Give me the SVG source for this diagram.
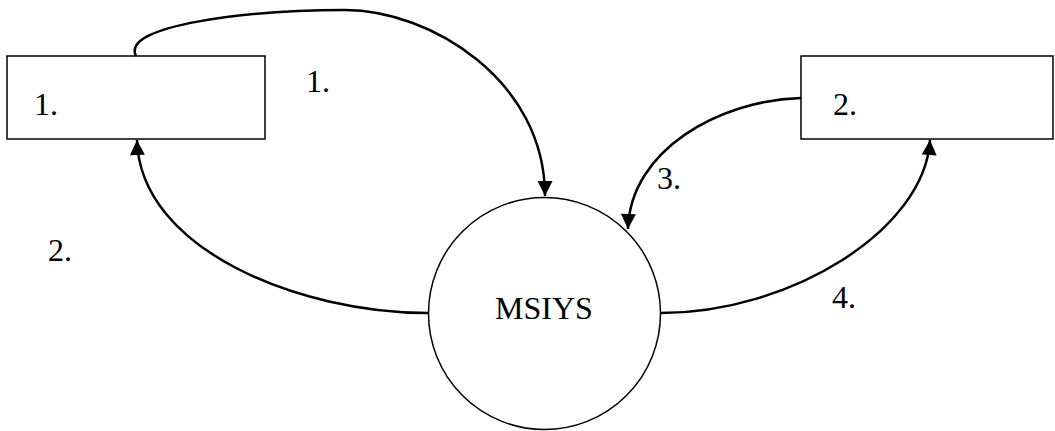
<svg xmlns="http://www.w3.org/2000/svg" width="1055" height="431" viewBox="0 0 1055 431">
<style>
.box{fill:#fff;stroke:#000;stroke-width:1.5}
.proc{fill:#fff;stroke:#000;stroke-width:1.5}
.flow{fill:none;stroke:#000;stroke-width:2.5}
.t{font-family:"Liberation Serif","Times New Roman",serif;font-size:32px;fill:#000}
</style>
<defs>
<marker id="arr" viewBox="0 0 10 10" refX="10" refY="5" markerWidth="6.5" markerHeight="6" markerUnits="strokeWidth" orient="auto">
<path d="M0,0 L10,5 L0,10 Z" fill="#000"/>
</marker>
</defs>
<rect width="1055" height="431" fill="#fff"/>
<g id="entity1">
<rect class="box" x="7" y="56" width="258" height="83"/>
<text class="t" x="34" y="115">1.</text>
</g>
<g id="entity2">
<rect class="box" x="801" y="56" width="252" height="83"/>
<text class="t" x="833" y="115">2.</text>
</g>
<g id="process">
<ellipse class="proc" cx="544.5" cy="313.5" rx="116" ry="116"/>
<text class="t" x="544" y="319" text-anchor="middle">MSIYS</text>
</g>
<g id="connectors">
<path class="flow" d="M136,56 C120,25 250,10 345,10 C430,10 545,80 545,196" marker-end="url(#arr)"/>
<path class="flow" d="M428,313 C300,313 140,250 137,140" marker-end="url(#arr)"/>
<path class="flow" d="M801,98 C720,100 630,150 628,229" marker-end="url(#arr)"/>
<path class="flow" d="M661,313 C790,313 925,230 930,140" marker-end="url(#arr)"/>
<text class="t" x="306" y="92">1.</text>
<text class="t" x="48" y="261">2.</text>
<text class="t" x="657" y="189">3.</text>
<text class="t" x="832" y="308">4.</text>
</g>
</svg>
